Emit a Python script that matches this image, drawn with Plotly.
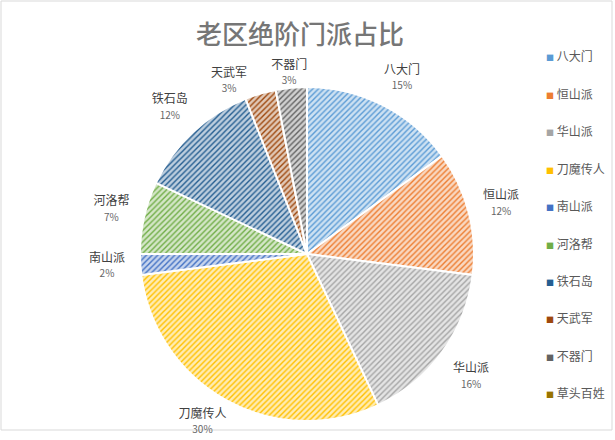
import math
import plotly.graph_objects as go

labels = ["八大门", "恒山派", "华山派", "刀魔传人", "南山派", "河洛帮", "铁石岛", "天武军", "不器门", "草头百姓"]
values = [15, 12, 16, 30, 2, 7, 12, 3, 3, 0]
colors = ["#5b9bd5", "#ed7d31", "#a5a5a5", "#ffc000", "#4472c4", "#70ad47", "#255e91", "#9e480e", "#636363", "#997300"]
title_text = "老区绝阶门派占比"


def tint(hexc, f):
    h = hexc.lstrip("#")
    r, g, b = int(h[0:2], 16), int(h[2:4], 16), int(h[4:6], 16)
    r = int(r + (255 - r) * f)
    g = int(g + (255 - g) * f)
    b = int(b + (255 - b) * f)
    return "#%02x%02x%02x" % (r, g, b)


bg = [tint(c, 0.7) for c in colors]
W, H = 615, 440
FONT = "Noto Sans CJK SC"
CX, CY, RAD = 307, 254, 167  # pie centre and radius in pixels
dom = dict(x=[(CX - RAD) / W, (CX + RAD) / W], y=[1 - (CY + RAD) / H, 1 - (CY - RAD) / H])

fig = go.Figure()
fig.add_trace(go.Pie(
    labels=labels,
    values=values,
    sort=False,
    direction="clockwise",
    rotation=0,
    textinfo="none",
    marker=dict(
        colors=bg,
        line=dict(color="white", width=2),
        pattern=dict(shape="/", fgcolor=colors, bgcolor=bg, size=4, solidity=0.35),
    ),
    domain=dom,
    showlegend=False,
    hoverinfo="label+percent",
))

# data labels on a hidden full-page cartesian frame whose unit equals the pie radius
LABEL_R = 1.2
# small pixel nudges for crowded labels (best-fit placement), (dx, dy) with dy downward
NUDGE_PX = {"天武军": (-22, 20), "不器门": (1, 19), "刀魔传人": (-8, -7), "八大门": (4, 3), "华山派": (2, 5)}
total = sum(values)
lx, ly, texts = [], [], []
cum = 0
for lab, v in zip(labels, values):
    mid = (cum + v / 2) / total * 2 * math.pi
    cum += v
    if v <= 0:
        continue
    dx, dy = NUDGE_PX.get(lab, (0, 0))
    lx.append(LABEL_R * math.sin(mid) + dx / RAD)
    ly.append(LABEL_R * math.cos(mid) - dy / RAD)
    texts.append(f"{lab}<br><span style='font-size:10px;color:#666666'>{round(v / total * 100)}%</span>")

fig.add_trace(go.Scatter(
    x=lx, y=ly, mode="text", text=texts, textposition="middle center",
    textfont=dict(family=FONT, size=12, color="#404040"),
    cliponaxis=False, showlegend=False, hoverinfo="skip",
))

# legend
annotations = []
for i, (lab, col) in enumerate(zip(labels, colors)):
    annotations.append(dict(
        xref="paper", yref="paper", x=544 / W, y=1 - (56 + i * 37.4) / H,
        xanchor="left", yanchor="middle", showarrow=False,
        text=f"<span style='color:{col};font-size:8px'>■</span> {lab}",
        font=dict(family=FONT, size=12, color="#595959"),
    ))

fig.update_layout(
    width=W, height=H,
    margin=dict(l=0, r=0, t=0, b=0),
    paper_bgcolor="white", plot_bgcolor="rgba(0,0,0,0)",
    xaxis=dict(domain=[0, 1], range=[-CX / RAD, (W - CX) / RAD], visible=False, fixedrange=True),
    yaxis=dict(domain=[0, 1], range=[-(H - CY) / RAD, CY / RAD], visible=False, fixedrange=True),
    title=dict(text=title_text, x=300 / W, xanchor="center", y=1 - 35 / H, yanchor="middle",
               font=dict(family=FONT, size=26, color="#767676", weight=500)),
    annotations=annotations,
    shapes=[dict(type="rect", xref="paper", yref="paper", x0=1 / W, x1=612 / W, y0=1 - 430 / H, y1=1 - 1 / H,
                 line=dict(color="#d9d9d9", width=1), fillcolor="rgba(0,0,0,0)", layer="below")],
)

fig.write_html("out.html", config={"displayModeBar": False},
               post_script="document.body.style.margin='0';document.body.style.overflow='hidden';")
